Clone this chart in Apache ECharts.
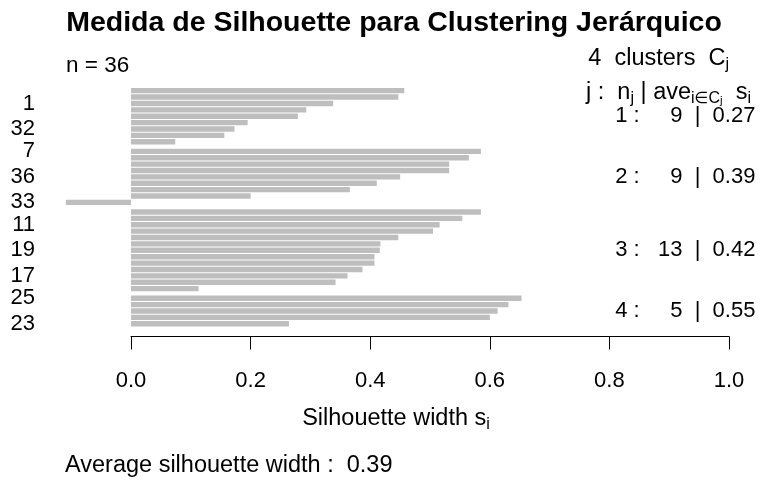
<!DOCTYPE html>
<html>
<head>
<meta charset="utf-8">
<script src="https://cdn.jsdelivr.net/npm/echarts@6/dist/echarts.min.js"></script>
<style>
  html, body { margin: 0; padding: 0; background: #fff; }
  #main { width: 763px; height: 482px; }
</style>
</head>
<body>
<div id="main"></div>
<script>
// silhouette widths, top to bottom, grouped by cluster
const clusterSizes = [9, 9, 13, 5];
const clusterAvg = [0.27, 0.39, 0.42, 0.55];
const silWidths = [
  0.457, 0.447, 0.338, 0.293, 0.279, 0.195, 0.173, 0.156, 0.074,
  0.585, 0.565, 0.532, 0.532, 0.450, 0.411, 0.366, 0.200, -0.109,
  0.585, 0.554, 0.516, 0.505, 0.447, 0.417, 0.416, 0.407, 0.407, 0.387, 0.362, 0.342, 0.113,
  0.653, 0.631, 0.613, 0.600, 0.264
];
const avgWidth = 0.39;
// observation names that R managed to print on the left axis
const shownNames = ["1", "32", "7", "36", "33", "11", "19", "17", "25", "23"];
const shownIndex = [2, 6, 9, 13, 17, 20, 24, 28, 31, 35];

const FONT = "'Liberation Sans', Arial, Helvetica, 'DejaVu Sans', sans-serif";
const X_MIN = -0.153, X_MAX = 1.044;

// half a bar of space between clusters
const clusterOf = [];
clusterSizes.forEach((n, c) => { for (let k = 0; k < n; k++) clusterOf.push(c); });
const barPos = silWidths.map((v, i) => i + 0.5 * clusterOf[i]);
const barData = silWidths.map((v, i) => [v, barPos[i]]);

const labelAt = {};
shownIndex.forEach((i, k) => { labelAt[barPos[i]] = shownNames[k]; });

let first = 0;
const clusterRows = clusterSizes.map((n, c) => {
  const mid = (barPos[first] + barPos[first + n - 1]) / 2;
  first += n;
  const nTxt = n < 10 ? "  " + n : String(n);
  return { value: [X_MAX, mid], name: (c + 1) + " :   " + nTxt + "  |  " + clusterAvg[c].toFixed(2) };
});

const base = { fontSize: 23.5, fontFamily: FONT, color: "#000", lineHeight: 28 };
const sub = { fontSize: 16, fontFamily: FONT, color: "#000", verticalAlign: "bottom", lineHeight: 13 };
const sub2 = { fontSize: 11.5, fontFamily: FONT, color: "#000", verticalAlign: "bottom", lineHeight: 6 };

const myChart = echarts.init(document.getElementById("main"));
const option = {
  animation: false,
  backgroundColor: "#fff",
  grid: [
    { left: 39.5, right: 7.6, top: 77.9, bottom: 145.5, outerBoundsMode: "none", containLabel: false },
    { left: 131, right: 34, top: 77.9, bottom: 145.5, outerBoundsMode: "none", containLabel: false }
  ],
  xAxis: [
    { type: "value", gridIndex: 0, min: X_MIN, max: X_MAX, show: false },
    {
      type: "value", gridIndex: 1, min: 0, max: 1, interval: 0.2,
      axisLine: { show: true, lineStyle: { color: "#000", width: 1 } },
      axisTick: { show: true, length: 13, lineStyle: { color: "#000", width: 1 } },
      axisLabel: { fontSize: 22, fontFamily: FONT, color: "#000", margin: 33, formatter: v => v.toFixed(1) },
      splitLine: { show: false }
    }
  ],
  yAxis: [
    {
      type: "value", gridIndex: 0, min: -2, max: 38.5, inverse: true,
      axisLine: { show: false }, axisTick: { show: false }, splitLine: { show: false },
      axisLabel: {
        show: true, customValues: shownIndex.map(i => barPos[i]),
        fontSize: 22, fontFamily: FONT, color: "#000", margin: 4.5,
        formatter: v => labelAt[v] || ""
      }
    },
    { type: "value", gridIndex: 1, min: 0, max: 1, show: false }
  ],
  series: [
    {
      type: "custom",
      xAxisIndex: 0, yAxisIndex: 0,
      data: barData,
      encode: { x: 0, y: 1 },
      renderItem: (params, api) => {
        const p = api.value(1);
        const a = api.coord([0, p]);
        const b = api.coord([api.value(0), p]);
        const h = api.size([0, 1])[1];
        return {
          type: "rect",
          shape: { x: Math.min(a[0], b[0]), y: a[1] - h / 2 + 0.5, width: Math.abs(b[0] - a[0]), height: h - 1 },
          style: { fill: "#BEBEBE" }
        };
      }
    },
    {
      type: "scatter",
      xAxisIndex: 0, yAxisIndex: 0,
      symbolSize: 0,
      itemStyle: { opacity: 1 },
      data: clusterRows,
      label: {
        show: true, position: "left", distance: 0,
        fontSize: 22, fontFamily: FONT, color: "#000",
        formatter: p => p.name
      }
    },
    // empty series so the axis-only grid is laid out
    { type: "line", xAxisIndex: 1, yAxisIndex: 1, data: [], silent: true }
  ],
  graphic: [
    {
      type: "text", x: 394, y: 23,
      style: { text: "Medida de Silhouette para Clustering Jerárquico", font: "bold 28.5px " + FONT, fill: "#000", align: "center", verticalAlign: "middle" }
    },
    {
      type: "text", x: 66, y: 66,
      style: { text: "n = 36", font: "22.5px " + FONT, fill: "#000", align: "left", verticalAlign: "middle" }
    },
    {
      type: "text", x: 729, y: 59,
      style: {
        text: "{b|" + clusterSizes.length + "  clusters  C}{s|j}",
        rich: { b: base, s: sub }, align: "right", verticalAlign: "middle"
      }
    },
    {
      type: "text", x: 751, y: 93,
      style: {
        text: "{b|j :  n}{s|j}{b| | ave}{s|i∈C}{t|j}{b|  s}{s|i}",
        rich: { b: base, s: sub, t: sub2 }, align: "right", verticalAlign: "middle"
      }
    },
    {
      type: "text", x: 396, y: 419,
      style: {
        text: "{b|Silhouette width s}{s|i}",
        rich: { b: base, s: sub }, align: "center", verticalAlign: "middle"
      }
    },
    {
      type: "text", x: 65, y: 466,
      style: { text: "Average silhouette width :  " + avgWidth.toFixed(2), font: "23.5px " + FONT, fill: "#000", align: "left", verticalAlign: "middle" }
    }
  ]
};
myChart.setOption(option);
</script>
</body>
</html>
